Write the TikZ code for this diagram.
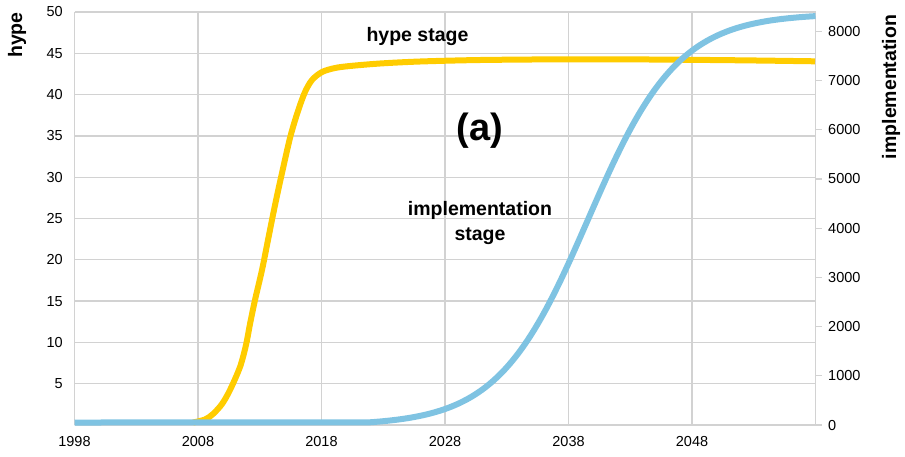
\documentclass[tikz,border=0pt]{standalone}
\usepackage{fontspec}
\setmainfont{Liberation Sans}
\definecolor{gridc}{HTML}{D2D2D2}
\definecolor{hypec}{HTML}{FFCC00}
\definecolor{implc}{HTML}{7FC3E2}
\begin{document}
\begin{tikzpicture}[x=1pt,y=-1pt,
  gridline/.style={draw=gridc,line width=1.3pt},
  axisline/.style={draw=gridc,line width=1.6pt},
  ticklab/.style={font=\fontsize{14.5}{16}\selectfont,inner sep=0pt},
  biglab/.style={font=\fontsize{19.5}{22}\selectfont\bfseries,inner sep=0pt},
  curve/.style={line width=6pt,line join=round}]
\useasboundingbox (0,0) rectangle (905,456);
% horizontal grid lines (5..50)
\foreach \k in {1,...,10}{
  \draw[gridline] (74.5,{425-41.3*\k}) -- (815.5,{425-41.3*\k});
}
% vertical grid lines (2008..2048)
\foreach \k in {1,...,5}{
  \draw[gridline] ({74.5+123.5*\k},12) -- ({74.5+123.5*\k},425);
}
% axes
\draw[axisline] (74.5,12) -- (74.5,425);
\draw[axisline] (815.5,12) -- (815.5,425);
\draw[axisline] (74.5,425) -- (815.5,425);
% right ticks
\foreach \k in {0,...,8}{
  \draw[gridline] (815.5,{425-49.2*\k}) -- (822,{425-49.2*\k});
}
% left tick labels
\foreach \k [evaluate=\k as \v using int(5*\k)] in {1,...,10}{
  \node[ticklab,anchor=east] (yl\k) at (63,{425-41.3*\k}) {\v};
}
% right tick labels
\foreach \k [evaluate=\k as \v using int(1000*\k)] in {0,...,8}{
  \node[ticklab,anchor=west] (yr\k) at (828,{425-49.2*\k}) {\v};
}
% x labels
\foreach \k [evaluate=\k as \v using int(1998+10*\k)] in {0,...,5}{
  \node[ticklab] (xl\k) at ({74.5+123.5*\k},441) {\v};
}
% axis titles
\node[biglab,rotate=90,anchor=base] (hypeax) at (22,35) {hype};
\node[biglab,rotate=90,anchor=base] (implax) at (896,87) {implementation};
% annotations
\node[biglab,anchor=base] (hypest) at (417.5,41.7) {hype stage};
\node[font=\fontsize{38}{40}\selectfont\bfseries,inner sep=0pt,anchor=base] (alab) at (480,140) {(a)};
\node[biglab,anchor=base] (implst1) at (480,215) {implementation};
\node[biglab,anchor=base] (implst2) at (480,240) {stage};
% hype curve
\draw[curve,draw=hypec] plot[smooth,tension=0.5] coordinates {
 (193,422.5) (205,419.5) (213,414) (222,404) (230,390) (240,367) (246,345)
 (250,324) (255,300) (262,270) (268,240) (274,210) (280,182) (290,138)
 (298,111) (305,92) (312,80) (322,72) (335,68) (350,66) (380,63.5)
 (420,61.5) (480,60) (568,59.3) (650,59.5) (740,60.3) (815,61.3)};
% implementation curve
\draw[curve,draw=implc] (74.5,422.5) -- (370,422.4)
  -- plot[domain=370:815.5,samples=120]
  (\x,{422.5-max(0,412/(1+exp(-(\x-588)/45))-3)});
\end{tikzpicture}
\end{document}
